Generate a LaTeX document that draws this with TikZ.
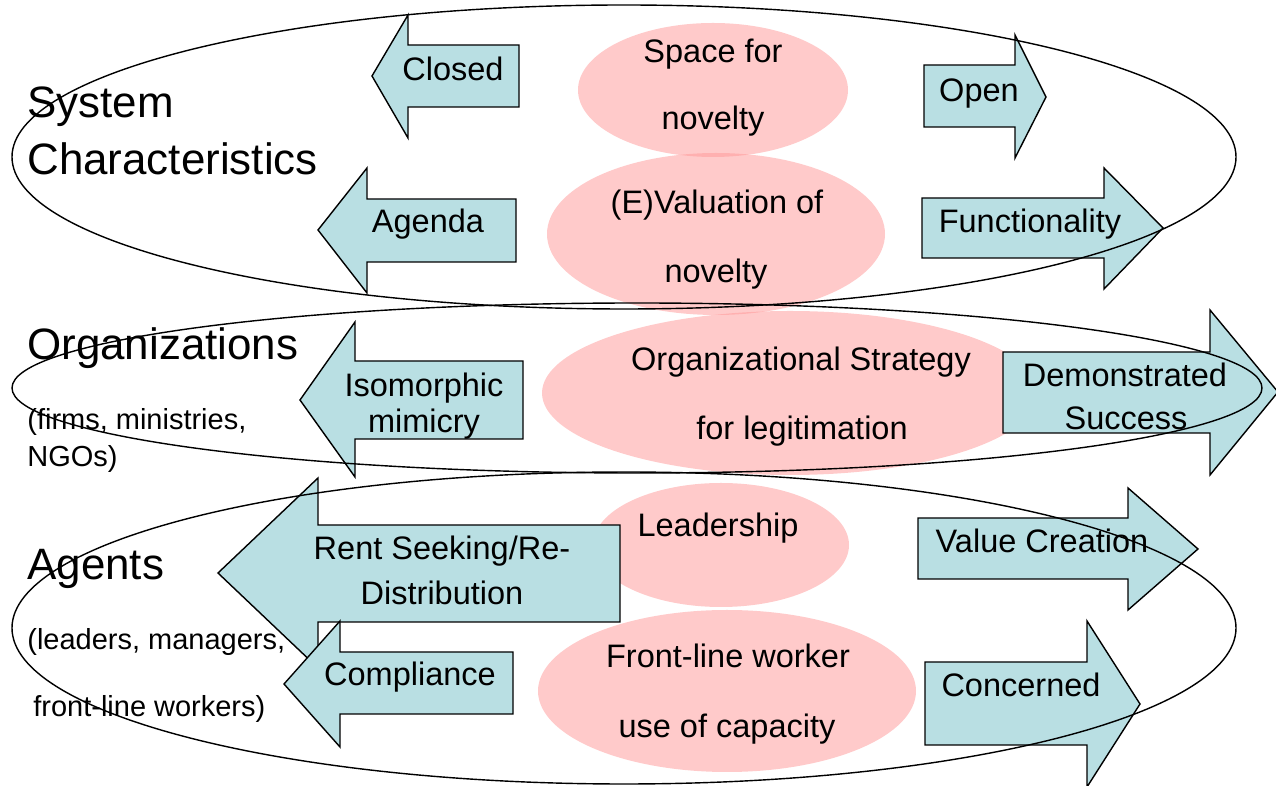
\documentclass[tikz,border=0pt]{standalone}
\usepackage{fontspec}
\setmainfont{Liberation Sans}
\usepackage{tikz}
\usepackage{xcolor}
\definecolor{arrowblue}{RGB}{185,223,227}
\definecolor{blobpink}{RGB}{255,150,150}
\tikzset{%
	ring/.style     = {draw=black, line width=0.8pt},
	blob/.style     = {fill=blobpink, fill opacity=0.5, draw=none},
	blockarrow/.style = {draw=black, line width=0.8pt, fill=arrowblue, line join=miter},
	cat/.style      = {anchor=base west, inner sep=0pt, font=\fontsize{25}{32}\selectfont},
	sub/.style      = {anchor=base west, inner sep=0pt, font=\fontsize{16.5}{20}\selectfont},
	lbl/.style      = {anchor=base, inner sep=0pt, font=\fontsize{18.5}{22}\selectfont},
	blobtxt/.style  = {anchor=base, inner sep=0pt, font=\fontsize{18.5}{22}\selectfont},
}
\begin{document}
\begin{tikzpicture}[x=0.02cm,y=-0.02cm]
		\useasboundingbox (0,0) rectangle (1276,786);
		% pink ellipses
		\fill[blob] (713,90) ellipse (135 and 67);
		\fill[blob] (716,234) ellipse (169 and 81);
		\fill[blob] (790,393) ellipse (248 and 82);
		\fill[blob] (721,545) ellipse (128 and 62);
		\fill[blob] (727,691) ellipse (189 and 81);
		% arrows to the left
		\draw[blockarrow] (372,76) -- (408,15) -- (408,45) -- (519,45) -- (519,107) -- (408,107) -- (408,138) -- cycle;
		\draw[blockarrow] (318,230) -- (367,168) -- (367,199) -- (516,199) -- (516,262) -- (367,262) -- (367,293) -- cycle;
		\draw[blockarrow] (300,400) -- (355,322) -- (355,361) -- (523,361) -- (523,439) -- (355,439) -- (355,477) -- cycle;
		\draw[blockarrow] (218,573) -- (318,478) -- (318,525) -- (620,525) -- (620,622) -- (318,622) -- (318,668) -- cycle;
		\draw[blockarrow] (284,684) -- (340,621) -- (340,652) -- (513,652) -- (513,714) -- (340,714) -- (340,747) -- cycle;
		% arrows to the right
		\draw[blockarrow] (1046,97) -- (1015,35) -- (1015,65) -- (924,65) -- (924,127) -- (1015,127) -- (1015,158) -- cycle;
		\draw[blockarrow] (1163,228) -- (1104,168) -- (1104,198) -- (922,198) -- (922,258) -- (1104,258) -- (1104,289) -- cycle;
		\draw[blockarrow] (1278,392) -- (1210,310) -- (1210,352) -- (1003,352) -- (1003,433) -- (1210,433) -- (1210,475) -- cycle;
		\draw[blockarrow] (1198,549) -- (1128,488) -- (1128,518) -- (918,518) -- (918,579) -- (1128,579) -- (1128,610) -- cycle;
		\draw[blockarrow] (1140,704) -- (1087,621) -- (1087,662) -- (925,662) -- (925,745) -- (1087,745) -- (1087,787) -- cycle;
		% text in the pink ellipses
		\node[blobtxt] (space) at (713,63) {Space for};
		\node[blobtxt] (spacenov) at (713,130) {novelty};
		\node[blobtxt] (evaluation) at (717,214) {(E)Valuation of};
		\node[blobtxt] (evalnov) at (716,283) {novelty};
		\node[blobtxt] (orgstrat) at (801,371) {Organizational Strategy};
		\node[blobtxt] (legit) at (802,440) {for legitimation};
		\node[blobtxt] (leadership) at (718,537) {Leadership};
		\node[blobtxt] (frontline) at (728,668) {Front-line worker};
		\node[blobtxt] (capacity) at (727,738) {use of capacity};
		% text in the arrows
		\node[lbl] (closed) at (453,81) {Closed};
		\node[lbl] (agenda) at (428,233) {Agenda};
		\node[lbl] (isomorphic) at (424,397) {Isomorphic};
		\node[lbl] (mimicry) at (424,433) {mimicry};
		\node[lbl] (rent) at (442,560) {Rent Seeking/Re-};
		\node[lbl] (distribution) at (442,605) {Distribution};
		\node[lbl] (compliance) at (410,686) {Compliance};
		\node[lbl] (open) at (979,102) {Open};
		\node[lbl] (functionality) at (1030,233) {Functionality};
		\node[lbl] (demonstrated) at (1125,387) {Demonstrated};
		\node[lbl] (success) at (1126,430) {Success};
		\node[lbl] (value) at (1042,553) {Value Creation};
		\node[lbl] (concerned) at (1021,697) {Concerned};
		% level names
		\node[cat] (system) at (27,118) {System};
		\node[cat] (characteristics) at (27,175) {Characteristics};
		\node[cat] (organizations) at (27,360) {Organizations};
		\node[sub] (firms) at (27,430) {(firms, ministries,};
		\node[sub] (ngos) at (27,467) {NGOs)};
		\node[cat] (agents) at (27,580) {Agents};
		\node[sub] (leaders) at (27,650) {(leaders, managers,};
		\node[sub] (workers) at (33,717) {front-line workers)};
		% black rings
		\draw[ring] (624,157) ellipse (612 and 152);
		\draw[ring] (637,388) ellipse (625 and 85);
		\draw[ring] (624,628) ellipse (612 and 156);
		\end{tikzpicture}
\end{document}
